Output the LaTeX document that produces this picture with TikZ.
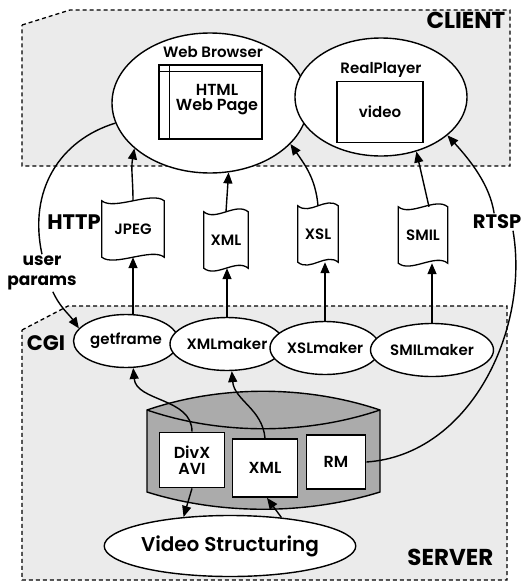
\documentclass[tikz,border=0pt]{standalone}
\usepackage{fontspec}
\setmainfont{Poppins}[UprightFont=* SemiBold,BoldFont=* Bold]
\usetikzlibrary{positioning,shapes,calc,arrows.meta}

\begin{document}
\begin{tikzpicture}[x=1pt,y=-1pt,>={Triangle[length=11pt,width=9pt]},line width=1.4pt,
    region/.style={fill=black!8,draw,dash pattern=on 4pt off 3pt,line width=1.3pt},
    app node/.style={ellipse,draw,fill=white,inner sep=0pt},
    cgi node/.style={ellipse,draw,fill=white,inner sep=0pt,minimum height=53pt,font=\fontsize{15}{16}\selectfont},
    doc node/.style={inner sep=0pt,minimum height=55pt,font=\fontsize{15}{15}\selectfont},
    file node/.style={draw,fill=white,line width=1.8pt,inner sep=0pt,font=\fontsize{16}{16}\selectfont,align=center},
    txt/.style={font=\fontsize{15}{15}\selectfont,align=center},
    tag/.style={font=\bfseries\fontsize{21}{21}\selectfont,inner sep=1pt}
  ]
  \useasboundingbox (0,0) rectangle (525,584);

  % client and server areas
  \draw[region] (22,25) -- (70,10) -- (510,10) -- (510,166) -- (22,166) -- cycle;
  \draw[region] (22,330) -- (68,306) -- (507,306) -- (507,580) -- (22,580) -- cycle;
  \node[tag,font=\bfseries\fontsize{23}{23}\selectfont,anchor=east] (client) at (507,20) {CLIENT};
  \node[tag,font=\bfseries\fontsize{23}{23}\selectfont,anchor=east] (server) at (495,557) {SERVER};
  \node[tag] (cgi) at (46,343) {CGI};
  \node[tag] (http) at (74,222) {HTTP};
  \node[tag,font=\bfseries\fontsize{19.5}{20}\selectfont,anchor=east] (rtsp) at (523,222) {RTSP};
  \node[font=\bfseries\fontsize{17}{20}\selectfont,align=center,inner sep=1pt] (params) at (42,273) {user\\params};

  % client side
  \node[app node,minimum width=196pt,minimum height=140pt] (wb) at (210,103) {};
  \node[txt] (wbname) at (213,52) {Web Browser};
  \node[draw,minimum width=103pt,minimum height=74pt] (page) at (210.5,102) {};
  \draw ($(page.north west)+(0,7)$) -- ($(page.north east)+(0,7)$);
  \draw ($(page.north west)+(11,0)$) -- ($(page.south west)+(11,0)$);
  \node[txt,font=\fontsize{16}{15}\selectfont] (pagetext) at (217,100) {HTML\\Web Page};
  \node[app node,minimum width=172pt,minimum height=118pt] (rp) at (381,97) {};
  \node[txt] (rpname) at (381,70) {RealPlayer};
  \node[draw,txt,minimum width=86pt,minimum height=61pt] (video) at (380,112) {video};

  % documents sent over http
  \node[doc node,minimum width=61pt] (jpeg) at (133,229) {JPEG};
  \node[doc node,minimum width=43pt] (xmldoc) at (226,240) {XML};
  \node[doc node,minimum width=39pt] (xsl) at (318,234) {XSL};
  \node[doc node,minimum width=48pt] (smil) at (423,235) {SMIL};
  \foreach \d in {jpeg,xmldoc,xsl,smil}
    \draw[line width=1.3pt] (\d.north west) .. controls +(12,10) and +(-12,-10) .. (\d.north east)
      -- (\d.south east) .. controls +(-12,-10) and +(12,10) .. (\d.south west) -- cycle;

  % cgi programs
  \node[cgi node,minimum width=105pt] (getframe) at (126,341) {getframe};
  \node[cgi node,minimum width=110pt] (xmlmaker) at (227,344) {XMLmaker};
  \node[cgi node,minimum width=110pt] (xslmaker) at (325,348) {XSLmaker};
  \node[cgi node,minimum width=123pt] (smilmaker) at (432,350) {SMILmaker};

  % storage
  \filldraw[fill=black!33] (147,410) .. controls (220,385) and (306,385) .. (380,410)
    -- (380,492) .. controls (306,515) and (220,515) .. (147,492) -- cycle;
  \draw (147,410) .. controls (220,435) and (306,435) .. (380,410);
  \node[file node,minimum width=65pt,minimum height=55pt] (divx) at (192,460) {DivX\\AVI};
  \node[file node,minimum width=65pt,minimum height=58pt] (xmlfile) at (265,468) {XML};
  \node[file node,minimum width=59pt,minimum height=54pt] (rm) at (336,462) {RM};
  \node[cgi node,minimum width=246pt,minimum height=61pt,font=\fontsize{20}{20}\selectfont] (vs) at (230,546) {Video Structuring};

  % connections
  \draw (wb.192) .. controls (60,140) and (28,190) .. (params.north);
  \draw[->] (params.-60) to[out=-65,in=125] (getframe.165);
  \draw[->] (jpeg.north) to[out=90,in=-100] (wb.211);
  \draw[->] (xmldoc.north) -- (wb.285);
  \draw[->] (xsl.north) to[out=95,in=-55] (wb.333);
  \draw[->] ([xshift=6pt]smil.north) -- (rp.303);
  \draw[->] (getframe.north -| jpeg) -- (jpeg.south);
  \draw[->] (xmlmaker.north) -- (xmlmaker.north |- xmldoc.south);
  \draw[->] (xslmaker.north) -- (xslmaker.north |- xsl.south);
  \draw[->] (smilmaker.north) -- (smilmaker.north |- smil.south);
  \draw[->] (divx.north) to[out=90,in=-85] (getframe.285);
  \draw[->] (xmlfile.north) to[out=95,in=-85] (xmlmaker.280);
  \draw[->] (divx.south) -- (vs.148);
  \draw[->] (vs.29) -- ([xshift=2pt]xmlfile.south);
  \draw (rm.east) .. controls (470,455) and (530,330) .. ([xshift=-10pt]rtsp.south east);
  \draw[->] ([xshift=-3pt]rtsp.north) .. controls (490,185) and (470,160) .. (rp.330);
\end{tikzpicture}
\end{document}
